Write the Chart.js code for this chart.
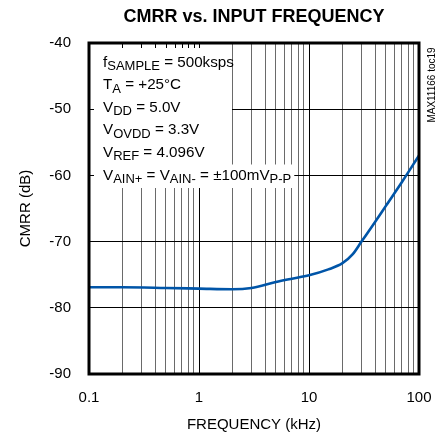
<!DOCTYPE html>
<html><head><meta charset="utf-8">
<script src="https://cdn.jsdelivr.net/npm/chart.js@4"></script>
<style>html,body{margin:0;padding:0;background:#fff}</style>
</head><body>
<canvas id="c" width="440" height="439"></canvas>
<script>
// ---- data ----
const frequencyKHz = [0.1, 0.2, 0.5, 1, 2, 3, 5, 7, 10, 15, 20, 25, 30, 40, 50, 70, 100];
const cmrrDB       = [-76.9, -76.9, -77.0, -77.1, -77.2, -77.0, -76.1, -75.6, -75.1, -74.2, -73.3, -71.9, -70.0, -67.0, -64.6, -61.0, -57.0];
const xTickValues = [0.1,0.2,0.3,0.4,0.5,0.6,0.7,0.8,0.9,1,2,3,4,5,6,7,8,9,10,20,30,40,50,60,70,80,90,100];
const xDecades = [0.1, 1, 10, 100];
const xDecadeLabels = ['0.1', '1', '10', '100'];
const yTickValues = [-90, -80, -70, -60, -50, -40];
const yTickLabels = ['-90', '-80', '-70', '-60', '-50', '-40'];
const chartTitle = 'CMRR vs. INPUT FREQUENCY';
const xAxisTitle = 'FREQUENCY (kHz)';
const yAxisTitle = 'CMRR (dB)';
const sideNote = 'MAX11166 toc19';
// segments alternate: normal, subscript, normal, subscript ...
const conditions = [
  ['f', 'SAMPLE', ' = 500ksps'],
  ['T', 'A', ' = +25°C'],
  ['V', 'DD', ' = 5.0V'],
  ['V', 'OVDD', ' = 3.3V'],
  ['V', 'REF', ' = 4.096V'],
  ['V', 'AIN+', ' = V', 'AIN-', ' = ±100mV', 'P-P']
];

const FAM = '"Liberation Sans", Arial, sans-serif';
const isDecade = v => xDecades.some(d => Math.abs(d - v) < 1e-9);

const decor = {
  id: 'decor',
  beforeDatasetsDraw(chart) {
    const {ctx, chartArea: a, scales: {x, y}} = chart;
    ctx.save();
    const mainFont = '15.2px ' + FAM, subFont = '13px ' + FAM;
    const textX = a.left + 14, firstBase = a.top + 23.5, lineStep = 22.6, subDrop = 3.5;
    const lineWidth = segs => segs.reduce((w, s, i) => { ctx.font = i % 2 ? subFont : mainFont; return w + ctx.measureText(s).width; }, 0);
    const lastW = lineWidth(conditions[conditions.length - 1]);
    const boxBottom = a.top + 145;
    ctx.fillStyle = '#fff';
    ctx.fillRect(a.left, a.top, Math.round(x.getPixelForValue(2)) - a.left, boxBottom - a.top);
    const lastTop = firstBase + lineStep * (conditions.length - 1) - 15;
    ctx.fillRect(a.left, lastTop, textX + lastW + 3 - a.left, boxBottom - lastTop);
    // small ticks inside the box
    ctx.strokeStyle = '#000'; ctx.lineWidth = 1;
    ctx.beginPath();
    xTickValues.filter(v => v > 0.1 && v <= 1).forEach(v => {
      const px = Math.round(x.getPixelForValue(v)) + 0.5;
      ctx.moveTo(px, a.top); ctx.lineTo(px, a.top + 5);
    });
    [-50, -60].forEach(v => {
      const py = Math.round(y.getPixelForValue(v)) + 0.5;
      ctx.moveTo(a.left, py); ctx.lineTo(a.left + 5, py);
    });
    ctx.stroke();
    // condition text
    ctx.fillStyle = '#000'; ctx.textBaseline = 'alphabetic'; ctx.textAlign = 'left';
    conditions.forEach((segs, li) => {
      let cx = textX; const base = firstBase + li * lineStep;
      segs.forEach((s, i) => {
        ctx.font = i % 2 ? subFont : mainFont;
        ctx.fillText(s, cx, base + (i % 2 ? subDrop : 0));
        cx += ctx.measureText(s).width;
      });
    });
    ctx.restore();
  },
  afterDatasetsDraw(chart) {
    const {ctx, chartArea: a} = chart;
    ctx.save();
    ctx.strokeStyle = '#000'; ctx.lineWidth = 3;
    ctx.strokeRect(a.left, a.top, a.right - a.left, a.bottom - a.top);
    ctx.translate(a.right + 13, a.top + 42);
    ctx.rotate(-Math.PI / 2);
    ctx.font = '10px ' + FAM; ctx.fillStyle = '#000';
    ctx.textAlign = 'center'; ctx.textBaseline = 'middle';
    ctx.fillText(sideNote, 0, 0);
    ctx.restore();
  }
};

new Chart(document.getElementById('c'), {
  type: 'scatter',
  data: {
    datasets: [{
      data: frequencyKHz.map((f, i) => ({x: f, y: cmrrDB[i]})),
      showLine: true,
      borderColor: '#0055A8',
      borderWidth: 2.6,
      pointRadius: 0,
      cubicInterpolationMode: 'monotone',
      clip: false
    }]
  },
  options: {
    responsive: false,
    animation: false,
    layout: {padding: {left: 0, right: 21, top: 0, bottom: 0}},
    plugins: {
      legend: {display: false},
      tooltip: {enabled: false},
      title: {
        display: true, text: chartTitle, color: '#000', fullSize: false,
        font: {family: FAM, size: 18, weight: 'bold', lineHeight: 1.2},
        padding: {top: 6, bottom: 15.4}
      }
    },
    scales: {
      x: {
        type: 'logarithmic', min: 0.1, max: 100,
        afterBuildTicks: s => { s.ticks = xTickValues.map(v => ({value: v})); },
        afterFit: s => { s.height = 65; s.paddingLeft = 0; s.paddingRight = 0; },
        ticks: {
          autoSkip: false, maxRotation: 0, minRotation: 0, padding: 15,
          color: '#000', font: {family: FAM, size: 15},
          callback: (v, i) => { const k = xDecades.findIndex(d => Math.abs(d - xTickValues[i]) < 1e-9); return k >= 0 ? xDecadeLabels[k] : ''; }
        },
        grid: {
          drawTicks: false, lineWidth: 1,
          color: c => (c.tick && isDecade(c.tick.value)) ? '#000' : '#6a6a6a'
        },
        border: {display: false},
        title: {display: true, text: xAxisTitle, color: '#000', font: {family: FAM, size: 15}, padding: {top: 0, bottom: 5.5}}
      },
      y: {
        type: 'linear', min: -90, max: -40,
        afterBuildTicks: s => { s.ticks = yTickValues.map(v => ({value: v})); },
        afterFit: s => { s.width = 89; s.paddingTop = 0; s.paddingBottom = 0; },
        ticks: {
          padding: 18, color: '#000', font: {family: FAM, size: 15},
          callback: (v, i) => yTickLabels[i]
        },
        grid: {drawTicks: false, lineWidth: 1, color: '#000'},
        border: {display: false},
        title: {display: true, text: yAxisTitle, color: '#000', font: {family: FAM, size: 15}, padding: {top: 16.5, bottom: 0}}
      }
    }
  },
  plugins: [decor]
});
</script>
</body></html>
